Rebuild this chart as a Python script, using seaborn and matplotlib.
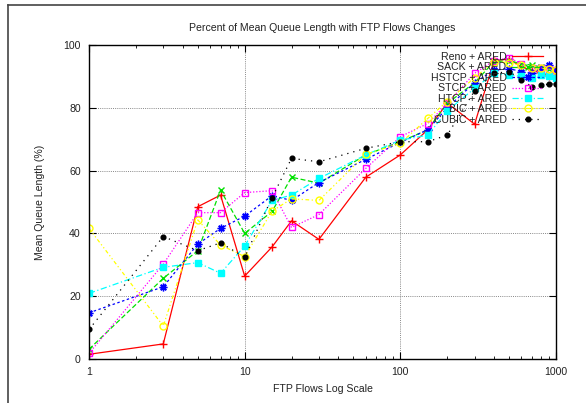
import matplotlib
matplotlib.use("Agg")
import matplotlib.pyplot as plt
from matplotlib.lines import Line2D
from matplotlib.ticker import LogLocator, NullFormatter, FixedLocator
import seaborn as sns

flows = [1, 3, 5, 7, 10, 15, 20, 30, 60, 100, 150, 200, 300, 400, 500, 600, 700, 800, 900, 1000]

reno = [1.5, 4.8, 48.5, 52.2, 26.4, 35.7, 44.0, 38.1, 57.9, 65.0, 73.0, 81.5, 74.8, 95.0, 95.5, 93.0, 92.0, 91.0, 90.1, 90.4]
sack = [3.1, 25.7, 34.5, 53.8, 40.0, 47.0, 57.9, 56.0, 65.0, 69.2, 73.0, 81.4, 88.0, 94.7, 95.0, 94.0, 93.6, 93.0, 92.5, 92.0]
hstcp = [14.7, 23.0, 36.6, 41.6, 45.5, 52.0, 50.5, 56.2, 63.6, 69.0, 73.0, 80.0, 88.0, 92.0, 92.5, 91.5, 91.0, 92.5, 93.5, 92.0]
stcp = [1.8, 30.2, 46.6, 46.6, 53.0, 53.6, 41.9, 46.0, 60.7, 70.8, 75.0, 81.4, 91.0, 95.0, 96.0, 94.0, 92.7, 92.7, 92.3, 92.0]
htcp = [20.9, 29.2, 30.7, 27.3, 36.0, 50.5, 52.2, 57.5, 65.0, 69.7, 71.3, 79.0, 86.2, 91.0, 90.4, 90.0, 89.4, 90.4, 90.0, 89.4]
bic = [41.6, 10.5, 44.3, 36.3, 32.6, 47.1, 51.0, 50.5, 65.2, 68.7, 76.6, 82.0, 89.6, 94.7, 94.4, 93.5, 92.8, 92.6, 92.3, 92.0]
cubic = [9.4, 39.0, 34.5, 37.0, 32.4, 51.4, 63.9, 62.8, 67.1, 69.2, 69.2, 71.3, 85.4, 91.0, 91.5, 89.0, 86.7, 87.3, 87.5, 87.6]

labels = ["Reno + ARED", "SACK + ARED", "HSTCP + ARED", "STCP + ARED",
          "HTCP + ARED", "BIC + ARED", "CUBIC + ARED"]
series = [reno, sack, hstcp, stcp, htcp, bic, cubic]

styles = [
    dict(color="#ff0000", ls="-", marker="+", mfc="#ff0000", ms=6),
    dict(color="#00e000", ls=(0, (4, 2)), marker="x", mfc="#00e000", ms=5),
    dict(color="#0000ff", ls=(0, (2, 2)), marker=(8, 2, 0), mfc="#0000ff", ms=5.5),
    dict(color="#ff00ff", ls=(0, (1, 1.5)), marker="s", mfc="none", ms=5),
    dict(color="#00ffff", ls=(0, (5, 2, 1, 2)), marker="s", mfc="#00ffff", ms=4.3),
    dict(color="#ffff00", ls=(0, (3, 2, 1, 2, 1, 2)), marker="o", mfc="none", ms=5),
    dict(color="#000000", ls=(0, (1, 4)), marker="o", mfc="#000000", ms=3.4),
]

plt.rcParams["font.family"] = ["Liberation Sans", "DejaVu Sans"]
plt.rcParams["font.size"] = 7.6

fig = plt.figure(figsize=(5.86, 4.03), dpi=100)
ax = fig.add_axes([89 / 586, 1 - 359 / 403, (556 - 89) / 586, (359 - 45) / 403])

for vals, lab, st in zip(series, labels, styles):
    sns.lineplot(x=flows, y=vals, ax=ax, label=lab, color=st["color"],
                 linestyle=st["ls"], marker=st["marker"], markersize=st["ms"],
                 markerfacecolor=st["mfc"], markeredgecolor=st["color"],
                 markeredgewidth=1.0, linewidth=0.9)

ax.set_xscale("log")
ax.set_xlim(1, 1000)
ax.set_ylim(0, 100)
ax.xaxis.set_major_locator(FixedLocator([1, 10, 100, 1000]))
ax.set_xticklabels(["1", "10", "100", "1000"])
ax.xaxis.set_minor_locator(LogLocator(base=10, subs=range(2, 10)))
ax.xaxis.set_minor_formatter(NullFormatter())
ax.set_yticks([0, 20, 40, 60, 80, 100])

ax.tick_params(which="both", direction="in", top=True, right=True, colors="black",
               labelcolor="#222222", labelsize=7.6)
ax.tick_params(which="major", length=5, width=0.8, pad=6)
ax.tick_params(which="minor", length=2.5, width=0.6)

ax.grid(True, which="major", color="#888888", linestyle=(0, (1, 1.2)), linewidth=0.7)
ax.set_axisbelow(True)
for s in ax.spines.values():
    s.set_linewidth(1.0)
    s.set_color("black")

ax.set_title("Percent of Mean Queue Length with FTP Flows Changes", fontsize=7.6,
             color="#222222", pad=10)
ax.set_xlabel("FTP Flows Log Scale", fontsize=7.6, color="#222222", labelpad=5)
ax.set_ylabel("Mean Queue Length (%)", fontsize=7.6, color="#222222", labelpad=13)

leg = ax.legend(loc="upper right", bbox_to_anchor=(1 - 13 / 467, 1 - 7 / 314),
                frameon=False, markerfirst=False, numpoints=1, fontsize=7.6,
                handlelength=2.9, handletextpad=0.55, labelspacing=0.04,
                borderpad=0, borderaxespad=0)
for t in leg.get_texts():
    t.set_color("#222222")

fig.add_artist(Line2D([8 / 586, 8 / 586], [0, 1 - 4.5 / 403], color="#444444", lw=1.2))
fig.add_artist(Line2D([8 / 586, 1], [1 - 4.5 / 403, 1 - 4.5 / 403], color="#444444", lw=1.2))

fig.savefig("out.png", dpi=100)
